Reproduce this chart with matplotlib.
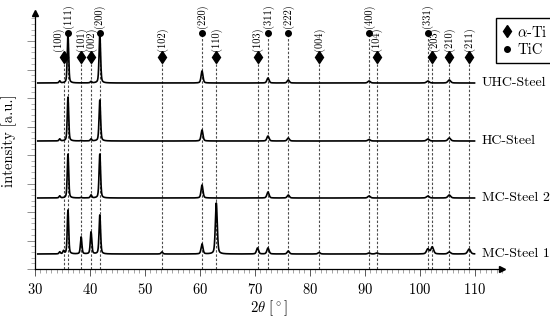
import numpy as np
import matplotlib
matplotlib.use("Agg")
import matplotlib.pyplot as plt
from matplotlib.ticker import MultipleLocator, NullFormatter
from matplotlib.lines import Line2D

plt.rcParams['font.family'] = ['cmr10', 'DejaVu Serif']
plt.rcParams['mathtext.fontset'] = 'cm'
plt.rcParams['axes.formatter.use_mathtext'] = True

# ---------------- data ----------------
series_names = ["UHC-Steel", "HC-Steel", "MC-Steel 2", "MC-Steel 1"]
series_offsets = [186, 128, 71, 15]

peak_positions = [34.5, 35.2, 36.0, 38.4, 40.2, 41.8, 53.1, 60.4, 63.0, 70.5,
                  72.4, 76.1, 81.7, 90.8, 92.2, 101.5, 102.3, 105.4, 109.0]
heights_uhc = [2, 0, 48, 0, 1.5, 49, 0, 12, 0, 0, 5, 3, 0, 2, 0, 2, 0, 3, 0]
heights_hc = [2, 0, 44, 0.5, 2, 41, 0, 11, 0, 0, 5, 3, 0, 1.5, 0, 2, 0, 3, 0]
heights_mc2 = [2, 0, 44, 0.5, 3, 44, 0, 13, 0, 0, 6, 3, 0, 2, 0, 2, 0, 3, 0]
heights_mc1 = [2, 3, 44, 17, 22, 39, 2, 10, 51, 6, 6, 3, 1.5, 1, 1, 5, 7, 2, 5]
series_heights = [heights_uhc, heights_hc, heights_mc2, heights_mc1]

ti_positions = [35.2, 38.4, 40.2, 53.1, 63.0, 70.5, 81.7, 92.2, 102.3, 105.4, 109.0]
ti_labels = ["(100)", "(101)", "(002)", "(102)", "(110)", "(103)", "(004)",
             "(104)", "(203)", "(210)", "(211)"]
tic_positions = [36.0, 41.8, 60.4, 72.4, 76.1, 90.8, 101.5]
tic_labels = ["(111)", "(200)", "(220)", "(311)", "(222)", "(400)", "(331)"]

# ---------------- figure ----------------
fig = plt.figure(figsize=(5.5, 3.2), dpi=100)
ax = fig.add_axes([35/550, 1-269/320, 467/550, 256/320])
ax.set_xlim(30, 115)
ax.set_ylim(0, 256)

x = np.linspace(30.5, 110, 4000)
for name, off, hs in zip(series_names, series_offsets, series_heights):
    y = np.full_like(x, float(off))
    for p, h in zip(peak_positions, hs):
        w = 0.28 + 0.004 * (p - 30)
        g = np.exp(-4*np.log(2)*((x-p)/w)**2)
        l = 1/(1+4*((x-p)/w)**2)
        y += h * (0.6*g + 0.4*l)
    ax.plot(x, y, color='k', lw=1.2, zorder=3)
    ax.text(111.3, off, name, ha='left', va='center', fontsize=10)

ti_y = 212
tic_y = 236
dash = dict(color='0.3', lw=0.8, linestyle=(0, (2.2, 1.6)), zorder=1)
for p, lab in zip(ti_positions, ti_labels):
    ax.plot([p, p], [0, ti_y], **dash)
    ax.plot(p, ti_y, marker='d', color='k', ms=6.5, zorder=4, clip_on=False)
    dx = -1.0 if lab == "(100)" else (0.4 if lab == "(203)" else 0)
    ax.text(p + dx, ti_y + 6, lab, rotation=90, ha='center', va='bottom',
            fontsize=7.5, clip_on=False)
for p, lab in zip(tic_positions, tic_labels):
    ax.plot([p, p], [0, tic_y], **dash)
    ax.plot(p, tic_y, marker='o', color='k', ms=4, zorder=4, clip_on=False)
    ax.text(p, tic_y + 5, lab, rotation=90, ha='center', va='bottom',
            fontsize=7.5, clip_on=False)

# axes styling
for s in ['top', 'right']:
    ax.spines[s].set_visible(False)
for s in ['left', 'bottom']:
    ax.spines[s].set_linewidth(0.9)
ax.plot(1, 0, '>k', ms=4, transform=ax.transAxes, clip_on=False)
ax.plot(0, 1, '^k', ms=4, transform=ax.transAxes, clip_on=False)

ax.set_xticks(np.arange(30, 111, 10))
ax.xaxis.set_minor_locator(MultipleLocator(1))
ax.yaxis.set_major_locator(MultipleLocator(28.5))
ax.yaxis.set_minor_locator(MultipleLocator(5.7))
ax.yaxis.set_major_formatter(NullFormatter())
ax.tick_params(axis='x', which='major', direction='out', length=5, width=0.7,
               color='0.35', labelsize=10.5, pad=4)
ax.tick_params(axis='x', which='minor', direction='out', length=3, width=0.5, color='0.5')
ax.tick_params(axis='y', which='major', direction='out', length=6, width=0.6, color='0.5')
ax.tick_params(axis='y', which='minor', direction='out', length=3, width=0.5, color='0.6')

ax.set_xlabel(r"2$\theta$ [$^\circ$]", fontsize=10.5, labelpad=1)
ax.set_ylabel("intensity [a.u.]", fontsize=10.5)
ax.yaxis.set_label_coords(-18/467, 0.5)

handles = [Line2D([], [], marker='d', color='k', ls='none', ms=6.5),
           Line2D([], [], marker='o', color='k', ls='none', ms=4)]
fig.legend(handles, [r"$\alpha$-Ti", "TiC"], loc='upper left',
           bbox_to_anchor=(496/550, 1-18/320), fontsize=10.5, frameon=True,
           fancybox=False, edgecolor='k', framealpha=1, borderpad=0.45,
           handlelength=0.6, handletextpad=0.4, labelspacing=0.25, borderaxespad=0)

fig.savefig("out.png", dpi=100)
